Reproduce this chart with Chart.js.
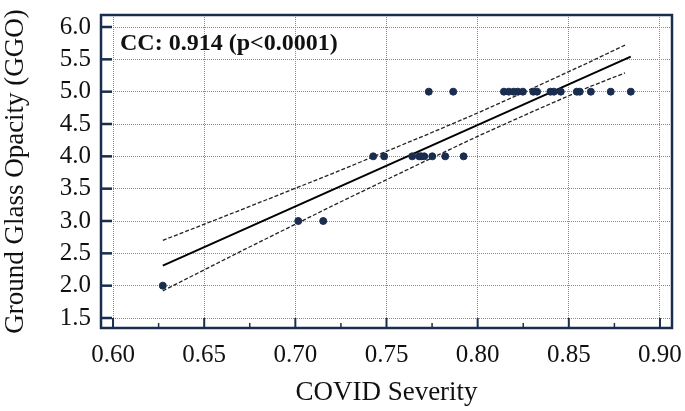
<!DOCTYPE html>
<html>
<head>
<meta charset="utf-8">
<script src="https://cdn.jsdelivr.net/npm/chart.js@4.4.1/dist/chart.umd.min.js"></script>
<style>
  html, body { margin: 0; padding: 0; background: #fff; }
  #wrap { width: 685px; height: 411px; }
</style>
</head>
<body>
<div id="wrap"><canvas id="ggoChart" width="685" height="411"></canvas></div>
<script>
// ticks
const xTicks = [0.60, 0.65, 0.70, 0.75, 0.80, 0.85, 0.90];
const xMinorTicks = [0.625, 0.675, 0.725, 0.775, 0.825, 0.875];
const yTicks = [1.5, 2.0, 2.5, 3.0, 3.5, 4.0, 4.5, 5.0, 5.5, 6.0];

// patients (severity vs GGO score)
const severity = [
    0.6273,
    0.7016, 0.7153,
    0.7427, 0.7487, 0.7641, 0.7679, 0.7690, 0.7707, 0.7751, 0.7822, 0.7923,
    0.7732, 0.7866, 0.8144, 0.8171, 0.8198, 0.8220, 0.8248, 0.8305, 0.8326,
    0.8399, 0.8418, 0.8456, 0.8544, 0.8560, 0.8621, 0.8730, 0.8840
];
const ggo = [
    2.0,
    3.0, 3.0,
    4.0, 4.0, 4.0, 4.0, 4.0, 4.0, 4.0, 4.0, 4.0,
    5.0, 5.0, 5.0, 5.0, 5.0, 5.0, 5.0, 5.0, 5.0,
    5.0, 5.0, 5.0, 5.0, 5.0, 5.0, 5.0, 5.0
];

// regression line + confidence band
const fitX = [0.6273, 0.8840];
const fitY = [2.309, 5.541];
const bandX = [0.6273, 0.67, 0.72, 0.77, 0.80, 0.83, 0.86, 0.8808];
const bandUpper = [2.70, 3.17, 3.73, 4.31, 4.67, 5.05, 5.44, 5.72];
const bandLower = [1.92, 2.53, 3.23, 3.91, 4.31, 4.69, 5.06, 5.29];

const ccLabel = 'CC: 0.914 (p<0.0001)';

const SERIF = "'Liberation Serif', 'Times New Roman', serif";
const NAVY = '#1b2d4f';

const toXY = (xs, ys) => xs.map((x, i) => ({ x: x, y: ys[i] }));

// drop the label overflow padding so the plot box lands where the figure has it
const noPad = scale => {
    scale.paddingTop = 0;
    scale.paddingBottom = 0;
    scale.paddingLeft = 0;
    scale.paddingRight = 0;
};

// frame, inward tick marks and CC text
const framePlugin = {
    id: 'frame',
    afterDatasetsDraw(chart) {
        const ctx = chart.ctx;
        const a = chart.chartArea;
        const xs = chart.scales.x;
        const ys = chart.scales.y;
        ctx.save();
        ctx.strokeStyle = NAVY;

        // y major ticks
        ctx.lineWidth = 2.5;
        yTicks.forEach(v => {
            const py = ys.getPixelForValue(v);
            ctx.beginPath();
            ctx.moveTo(a.left, py);
            ctx.lineTo(a.left + 11, py);
            ctx.stroke();
        });
        // x major + minor ticks
        ctx.lineWidth = 2;
        xTicks.forEach(v => {
            const px = xs.getPixelForValue(v);
            ctx.beginPath();
            ctx.moveTo(px, a.bottom);
            ctx.lineTo(px, a.bottom - 10);
            ctx.stroke();
        });
        ctx.lineWidth = 1.5;
        xMinorTicks.forEach(v => {
            const px = xs.getPixelForValue(v);
            ctx.beginPath();
            ctx.moveTo(px, a.bottom);
            ctx.lineTo(px, a.bottom - 5);
            ctx.stroke();
        });

        ctx.lineWidth = 2.5;
        ctx.strokeRect(a.left, a.top, a.right - a.left, a.bottom - a.top);

        ctx.fillStyle = '#111';
        ctx.font = 'bold 24px ' + SERIF;
        ctx.textBaseline = 'middle';
        ctx.textAlign = 'left';
        ctx.fillText(ccLabel, a.left + 19, a.top + 29);
        ctx.restore();
    }
};

new Chart(document.getElementById('ggoChart'), {
    type: 'scatter',
    data: {
        datasets: [
            {
                label: 'patients',
                data: toXY(severity, ggo),
                backgroundColor: NAVY,
                borderColor: NAVY,
                pointRadius: 3.5,
                order: 0
            },
            {
                label: 'fit',
                data: toXY(fitX, fitY),
                showLine: true,
                borderColor: '#000',
                borderWidth: 2,
                pointRadius: 0,
                order: 1
            },
            {
                label: 'upper',
                data: toXY(bandX, bandUpper),
                showLine: true,
                borderColor: '#222',
                borderWidth: 1.3,
                borderDash: [4, 2],
                pointRadius: 0,
                order: 2
            },
            {
                label: 'lower',
                data: toXY(bandX, bandLower),
                showLine: true,
                borderColor: '#222',
                borderWidth: 1.3,
                borderDash: [4, 2],
                pointRadius: 0,
                order: 3
            }
        ]
    },
    options: {
        responsive: false,
        animation: false,
        layout: { padding: { top: 15, right: 13, left: 0, bottom: 0 } },
        plugins: {
            legend: { display: false },
            tooltip: { enabled: false }
        },
        scales: {
            x: {
                type: 'linear',
                min: 0.5934,
                max: 0.9066,
                afterBuildTicks: axis => { axis.ticks = xTicks.map(v => ({ value: v })); },
                afterFit: scale => { scale.height = 83; noPad(scale); },
                grid: { color: '#8a8a8a', lineWidth: 1, drawTicks: false },
                border: { display: false, dash: [1, 1] },
                ticks: {
                    color: '#111',
                    font: { family: SERIF, size: 25 },
                    padding: 12,
                    maxRotation: 0,
                    callback: v => Number(v).toFixed(2)
                },
                title: {
                    display: true,
                    text: 'COVID Severity',
                    color: '#111',
                    font: { family: SERIF, size: 27 },
                    padding: { top: 0, bottom: 2 }
                }
            },
            y: {
                type: 'linear',
                min: 1.3454,
                max: 6.1856,
                afterBuildTicks: axis => { axis.ticks = yTicks.map(v => ({ value: v })); },
                afterFit: scale => { scale.width = 101; noPad(scale); },
                grid: { color: '#8a8a8a', lineWidth: 1, drawTicks: false },
                border: { display: false, dash: [1, 1] },
                ticks: {
                    color: '#111',
                    font: { family: SERIF, size: 25 },
                    padding: 10,
                    callback: v => Number(v).toFixed(1)
                },
                title: {
                    display: true,
                    text: 'Ground Glass Opacity (GGO)',
                    color: '#111',
                    font: { family: SERIF, size: 27 },
                    padding: { top: 0, bottom: 0 }
                }
            }
        }
    },
    plugins: [framePlugin]
});
</script>
</body>
</html>
